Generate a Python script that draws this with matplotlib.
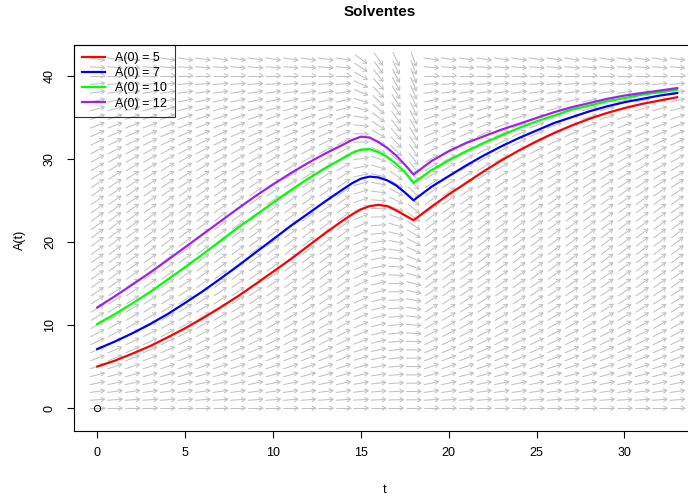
import numpy as np
import matplotlib
matplotlib.use("Agg")
import matplotlib.pyplot as plt
from matplotlib.collections import LineCollection

plt.rcParams['font.family'] = ['Liberation Sans', 'DejaVu Sans']

# curve values
t_vals = [0, 1, 2, 3, 4, 5, 6, 7, 8, 9, 10, 11, 12, 13, 14, 14.5, 15, 15.5, 16,
          16.5, 17, 17.5, 18, 19, 20, 21, 22, 23, 24, 25, 26, 27, 28, 29, 30,
          31, 32, 33]

a_05 = [5.0, 5.7, 6.55, 7.45, 8.5, 9.6, 10.8, 12.1, 13.45, 14.9, 16.4, 17.9,
        19.5, 21.1, 22.6, 23.3, 23.9, 24.3, 24.45, 24.3, 23.8, 23.2, 22.6,
        24.2, 25.7, 27.1, 28.5, 29.8, 31.0, 32.1, 33.1, 34.0, 34.8, 35.5, 36.1,
        36.6, 37.0, 37.4]

a_07 = [7.1, 8.0, 9.0, 10.1, 11.3, 12.65, 14.05, 15.55, 17.1, 18.7, 20.3, 21.9,
        23.4, 24.9, 26.35, 27.05, 27.6, 27.85, 27.75, 27.4, 26.8, 25.95, 25.0,
        26.6, 27.9, 29.2, 30.4, 31.5, 32.5, 33.4, 34.3, 35.0, 35.7, 36.3, 36.8,
        37.2, 37.6, 37.9]

a_10 = [10.1, 11.3, 12.6, 13.95, 15.45, 16.95, 18.5, 20.1, 21.7, 23.2, 24.7,
        26.2, 27.6, 28.9, 30.1, 30.7, 31.1, 31.15, 30.8, 30.2, 29.4, 28.4,
        27.1, 28.6, 29.8, 30.9, 31.9, 32.8, 33.7, 34.5, 35.2, 35.9, 36.4, 36.9,
        37.3, 37.7, 38.0, 38.3]

a_12 = [12.1, 13.45, 14.85, 16.3, 17.8, 19.35, 20.9, 22.45, 24.0, 25.5, 26.9,
        28.25, 29.5, 30.65, 31.7, 32.25, 32.65, 32.55, 32.0, 31.3, 30.4, 29.3,
        28.1, 29.7, 30.9, 31.9, 32.7, 33.5, 34.2, 34.9, 35.6, 36.2, 36.7, 37.2,
        37.6, 37.9, 38.2, 38.5]

curve_labels = ["A(0) = 5", "A(0) = 7", "A(0) = 10", "A(0) = 12"]
curve_colors = ["#FF0000", "#0000FF", "#00FF00", "#A020F0"]

# equilibrium point marked at the origin
eq_t = [0]
eq_a = [0]

# direction field grid and the slope rule it shows
field_t = np.arange(0, 34)
field_a = np.arange(0, 43)
growth_rate = 0.158
capacity = 40
harvest_start = 15
harvest_end = 18


def slope(t, a):
    harvest = 0.0
    if harvest_start <= t <= harvest_end:
        harvest = 0.03 + 0.035 * (t - harvest_start)
    return growth_rate * a * (1 - a / capacity) - harvest * a


fig = plt.figure(figsize=(6.88, 4.97), dpi=100)
ax = fig.add_axes([74 / 688, (497 - 430.7) / 497, (700.4 - 74) / 688, 386 / 497])
ax.set_xlim(-1.32, 34.32)
ax.set_ylim(-2.72, 43.72)

# arrows are built in pixel space so they all have the same length on screen
to_px = ax.transData
to_data = ax.transData.inverted()
origin = to_px.transform((0, 0))
sx = to_px.transform((1, 0))[0] - origin[0]
sy = to_px.transform((0, 1))[1] - origin[1]

arrow_len = 15.0
head_len = 4.5
head_ang = np.deg2rad(30)

segments = []
for t in field_t:
    for a in field_a:
        s = slope(t, a)
        d = np.array([sx, sy * s])
        d = d / np.hypot(d[0], d[1])
        centre = to_px.transform((t, a))
        start = centre - d * arrow_len / 2
        end = centre + d * arrow_len / 2
        segments.append(to_data.transform([start, end]))
        back = -d
        for ang in (head_ang, -head_ang):
            rot = np.array([[np.cos(ang), -np.sin(ang)], [np.sin(ang), np.cos(ang)]])
            tip = end + rot @ back * head_len
            segments.append(to_data.transform([end, tip]))

field = LineCollection(segments, colors="#c2c2c2", linewidths=0.75, zorder=1)
ax.add_collection(field)

for values, label, colour in zip([a_05, a_07, a_10, a_12], curve_labels, curve_colors):
    ax.plot(t_vals, values, color=colour, lw=1.6, label=label, zorder=3)

ax.plot(eq_t, eq_a, "o", mfc="none", mec="black", ms=4.5, mew=0.7, zorder=4)

leg = ax.legend(loc="upper left", bbox_to_anchor=(0, 1), borderaxespad=0,
                frameon=True, fancybox=False, edgecolor="black", facecolor="none",
                fontsize=9, handlelength=1.9, handletextpad=0.8,
                labelspacing=0.25, borderpad=0.6)
leg.get_frame().set_linewidth(0.8)

ax.set_xticks([0, 5, 10, 15, 20, 25, 30])
ax.set_yticks([0, 10, 20, 30, 40])
ax.tick_params(direction="out", length=5, width=0.8, labelsize=9, colors="black")
ax.tick_params(axis="x", pad=7)
ax.tick_params(axis="y", pad=8)
plt.setp(ax.get_yticklabels(), rotation=90, va="center")
for sp in ax.spines.values():
    sp.set_linewidth(0.8)

fig.text(385 / 688, 1 - 490 / 497, "t", ha="center", va="center", fontsize=9)
fig.text(20 / 688, 1 - 240 / 497, "A(t)", ha="center", va="center",
         rotation=90, fontsize=9)
fig.text(380 / 688, 1 - 12 / 497, "Solventes", ha="center", va="center",
         fontsize=11, fontweight="bold")

fig.savefig("out.png", dpi=100)
